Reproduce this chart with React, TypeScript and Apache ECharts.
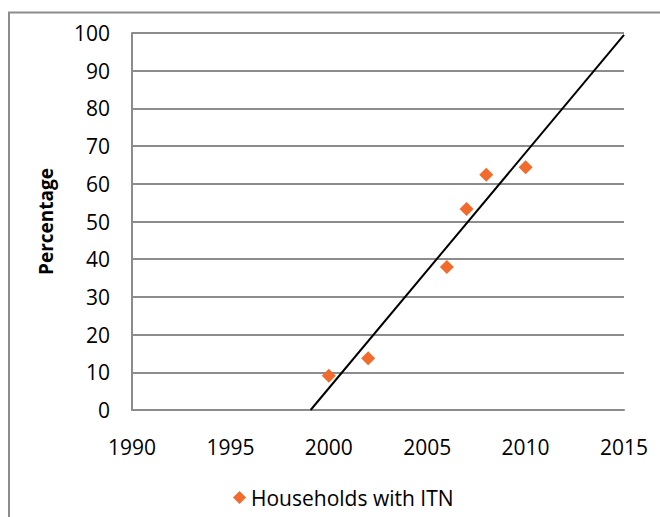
import React, { useEffect, useRef } from "react";
import * as echarts from "echarts";

const years = [2000, 2002, 2006, 2007, 2008, 2010];
const households = [9.1, 13.7, 37.9, 53.3, 62.4, 64.4];
const seriesName = "Households with ITN";
const yAxisTitle = "Percentage";
const xMin = 1990;
const xMax = 2015;

// Linear trend line (least squares) derived from the data, as Excel does
function trendLine(xs: number[], ys: number[]) {
  const n = xs.length;
  const mx = xs.reduce((a, b) => a + b, 0) / n;
  const my = ys.reduce((a, b) => a + b, 0) / n;
  let sxy = 0;
  let sxx = 0;
  for (let i = 0; i < n; i++) {
    sxy += (xs[i] - mx) * (ys[i] - my);
    sxx += (xs[i] - mx) * (xs[i] - mx);
  }
  const slope = sxy / sxx;
  const icpt = my - slope * mx;
  const x0 = -icpt / slope; // where trend crosses 0
  return [
    [x0, 0],
    [xMax, slope * xMax + icpt],
  ];
}

export default function App() {
  const ref = useRef<HTMLDivElement>(null);
  useEffect(() => {
    if (!ref.current) return;
    const chart = echarts.init(ref.current, undefined, { renderer: "svg" });
    const font = "'Open Sans', sans-serif";
    const gray = "#8c8c8c";
    const orange = "#F26A2C";
    chart.setOption({
      animation: false,
      backgroundColor: "#ffffff",
      textStyle: { fontFamily: font },
      grid: { left: 132, right: 36, top: 33, bottom: 107, containLabel: false },
      graphic: [
        {
          type: "rect",
          shape: { x: 9, y: 12.5, width: 700, height: 600 },
          style: { fill: "none", stroke: gray, lineWidth: 2 },
          silent: true,
        },
        {
          type: "text",
          x: 46,
          y: 221.5,
          rotation: Math.PI / 2,
          style: {
            text: yAxisTitle,
            font: `bold 19px ${font}`,
            fill: "#000",
            align: "center",
            verticalAlign: "middle",
          },
        },
      ],
      legend: {
        data: [seriesName],
        left: 228,
        top: 482,
        icon: "diamond",
        itemWidth: 13,
        itemHeight: 13,
        textStyle: { fontFamily: font, fontSize: 21, color: "#000" },
      },
      xAxis: {
        type: "value",
        min: xMin,
        max: xMax,
        interval: 5,
        axisLine: { show: true, lineStyle: { color: gray, width: 2 } },
        axisTick: { show: false },
        splitLine: { show: false },
        axisLabel: {
          fontFamily: font,
          fontSize: 21,
          color: "#000",
          margin: 26,
          formatter: (v: number) => String(v),
        },
      },
      yAxis: {
        type: "value",
        min: 0,
        max: 100,
        interval: 10,
        axisLine: { show: true, lineStyle: { color: gray, width: 2 } },
        axisTick: { show: false },
        splitLine: { show: true, lineStyle: { color: gray, width: 2 } },
        axisLabel: { fontFamily: font, fontSize: 21, color: "#000", margin: 22 },
      },
      series: [
        {
          name: "Trend",
          type: "line",
          data: trendLine(years, households),
          symbol: "none",
          lineStyle: { color: "#000", width: 2 },
          silent: true,
          z: 3,
        },
        {
          name: seriesName,
          type: "scatter",
          data: years.map((y, i) => [y, households[i]]),
          symbol: "diamond",
          symbolSize: 14,
          itemStyle: { color: orange, opacity: 1 },
          z: 2,
        },
      ],
    });
    return () => chart.dispose();
  }, []);
  return (
    <div
      ref={ref}
      style={{ position: "absolute", left: 0, top: 0, width: 660, height: 517 }}
    />
  );
}
